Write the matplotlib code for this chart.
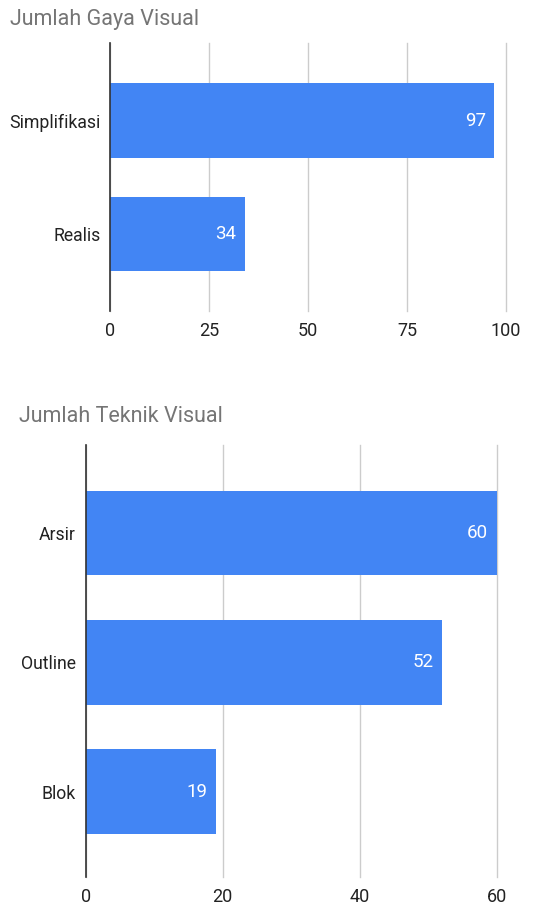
import matplotlib.pyplot as plt

# data
gaya_labels = ["Realis", "Simplifikasi"]
gaya_values = [34, 97]
gaya_ticks = [0, 25, 50, 75, 100]

teknik_labels = ["Blok", "Outline", "Arsir"]
teknik_values = [19, 52, 60]
teknik_ticks = [0, 20, 40, 60]

plt.rcParams['font.family'] = ['Roboto', 'DejaVu Sans']

BAR = "#4285F4"
GRID = "#cccccc"
TEXT = "#222222"
TITLE = "#757575"


def draw(ax, labels, values, ticks, xmax, ylim, height):
    pos = list(range(len(labels)))
    ax.barh(pos, values, height=height, color=BAR, zorder=3)
    ax.set_xlim(0, xmax)
    ax.set_ylim(*ylim)
    ax.set_xticks(ticks)
    ax.set_xticklabels([str(t) for t in ticks], fontsize=13, color=TEXT)
    ax.set_yticks(pos)
    ax.set_yticklabels(labels, fontsize=12.7, color=TEXT)
    ax.tick_params(axis='both', length=0)
    ax.tick_params(axis='x', pad=8)
    ax.tick_params(axis='y', pad=7)
    ax.grid(axis='x', color=GRID, linewidth=1, zorder=0)
    for g in ax.get_xgridlines():
        g.set_clip_on(False)
    for s in ["top", "right", "bottom"]:
        ax.spines[s].set_visible(False)
    ax.spines["left"].set_color("#333333")
    ax.spines["left"].set_linewidth(1.2)
    ax.spines["left"].set_zorder(4)
    for p, v in zip(pos, values):
        ax.annotate(str(v), (v, p), xytext=(-6, 0), textcoords="offset points",
                    ha="right", va="center", color="white", fontsize=13.5, zorder=5)


fig = plt.figure(figsize=(5.45, 9.08), dpi=100)

ax1 = fig.add_axes([0.2018, 0.6575, 0.7266, 0.2952])
draw(ax1, gaya_labels, gaya_values, gaya_ticks, 100, (-0.68, 1.687), 0.662)
fig.text(10 / 545, 1 - 19 / 908, "Jumlah Gaya Visual", fontsize=15.5, color=TITLE,
         ha="left", va="center")

ax2 = fig.add_axes([0.1572, 0.0341, 0.7541, 0.4758])
draw(ax2, teknik_labels, teknik_values, teknik_ticks, 60, (-0.66, 2.68), 0.653)
fig.text(19 / 545, 1 - 417 / 908, "Jumlah Teknik Visual", fontsize=15.5, color=TITLE,
         ha="left", va="center")

fig.savefig("out.png", dpi=100, facecolor="white")
